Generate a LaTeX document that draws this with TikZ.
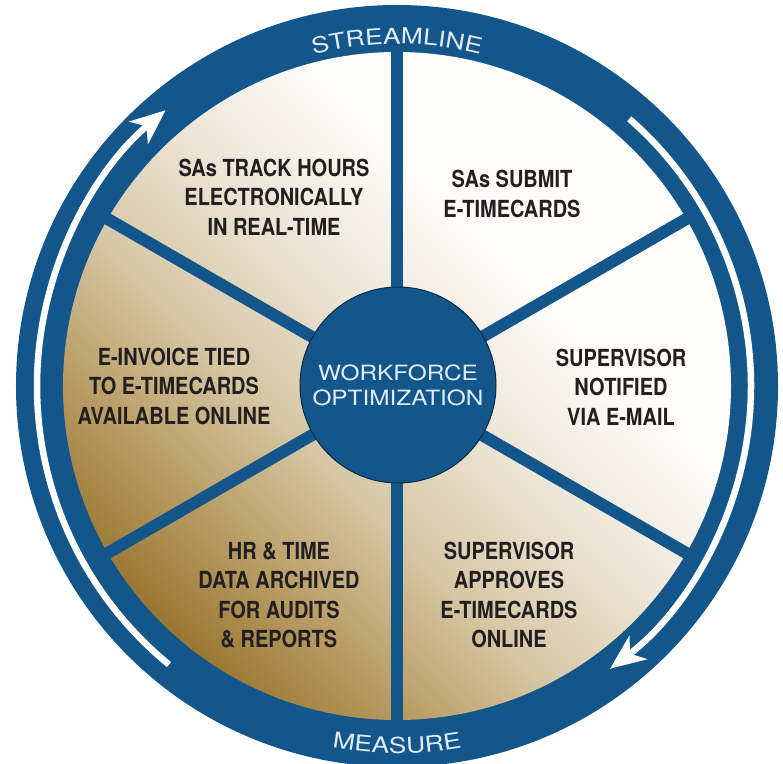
\documentclass[tikz,border=0pt]{standalone}
\usepackage{fontspec}
\usepackage{pdfrender}
\usetikzlibrary{arrows.meta,decorations.text}
\newfontfamily\stagefont[FakeStretch=0.85]{TeX Gyre Heros}
\newfontfamily\ringfont[FakeStretch=1.2]{TeX Gyre Heros}
\newfontfamily\hubfont[FakeStretch=1.16]{TeX Gyre Heros}

\definecolor{ringblue}{HTML}{12568B}
\definecolor{hubline}{HTML}{0D2A45}
\definecolor{ringfill}{HTML}{E2ECF5}
\definecolor{stagetext}{HTML}{231F20}
\definecolor{pgold}{HTML}{9A7833}
\definecolor{pgoldb}{HTML}{B89C64}
\definecolor{pmid}{HTML}{D6C6A4}
\definecolor{plight}{HTML}{ECE4D5}
\definecolor{pwhite}{HTML}{FDFCF9}
\pgfdeclarehorizontalshading{pieshade}{100bp}{color(0bp)=(pgold); color(25bp)=(pgold);
  color(33bp)=(pgoldb); color(42bp)=(pmid); color(52bp)=(plight); color(62bp)=(pwhite);
  color(100bp)=(pwhite)}

\newcommand\outlined{\color{ringfill}\pdfrender{TextRenderingMode=FillStroke,LineWidth=1.2pt,
  StrokeColor=hubline}}
\newcommand\ringstyle{\ringfont\fontsize{22pt}{22pt}\selectfont\outlined}

\tikzset{
  stage/.style={font=\stagefont\bfseries\fontsize{23.5pt}{29.5pt}\selectfont,
    text=stagetext, align=center, inner sep=0pt},
  spoke/.style={ringblue, line width=12pt},
  flow/.style={white, line width=6.5pt, -{Stealth[length=35pt,width=29pt,inset=10pt]}},
  hubdisc/.style={circle, fill=ringblue, draw=hubline, line width=1pt, minimum size=196pt,
    inner sep=0pt, align=center, text=ringfill,
    font=\hubfont\fontsize{21pt}{25pt}\selectfont\outlined}
}

\begin{document}
\begin{tikzpicture}[x=1pt,y=1pt]
  \useasboundingbox (-397,-377) rectangle (386,386);
  % blue ring and shaded wheel
  \fill[ringblue] (0,0) circle (381);
  \shade[shading=pieshade, shading angle=45] (0,0) circle (334);
  \foreach \a in {30,90,...,330}
    \draw[spoke] (0,0) -- (\a:340);

  \node[hubdisc] (hub) at (1,1) {WORKFORCE\\OPTIMIZATION};

  % the two white arrows in the ring
  \draw[flow] (230.7:360) arc[start angle=230.7, end angle=130, radius=360];
  \draw[flow] (49:354) arc[start angle=49, end angle=-53, radius=354];

  % stages
  \node[stage] (track)   at (-123,189) {SAs TRACK HOURS\\ELECTRONICALLY\\IN REAL-TIME};
  \node[stage] (submit)  at (115,192)  {SAs SUBMIT\\E-TIMECARDS};
  \node[stage] (notify)  at (224,-1)   {SUPERVISOR\\NOTIFIED\\VIA E-MAIL};
  \node[stage] (approve) at (112,-209) {SUPERVISOR\\APPROVES\\E-TIMECARDS\\ONLINE};
  \node[stage] (archive) at (-118,-209) {HR \& TIME\\DATA ARCHIVED\\FOR AUDITS\\\& REPORTS};
  \node[stage] (invoice) at (-223,0)   {E-INVOICE TIED\\TO E-TIMECARDS\\AVAILABLE ONLINE};

  % ring words
  \path[decorate, decoration={text along path, text align=center,
    text={|\ringstyle|STREAMLINE}}]
    (120:342) arc[start angle=120, end angle=60, radius=342];
  \path[decorate, decoration={text along path, text align=center,
    text={|\ringstyle|MEASURE}}]
    (240:367) arc[start angle=240, end angle=300, radius=367];
\end{tikzpicture}
\end{document}
